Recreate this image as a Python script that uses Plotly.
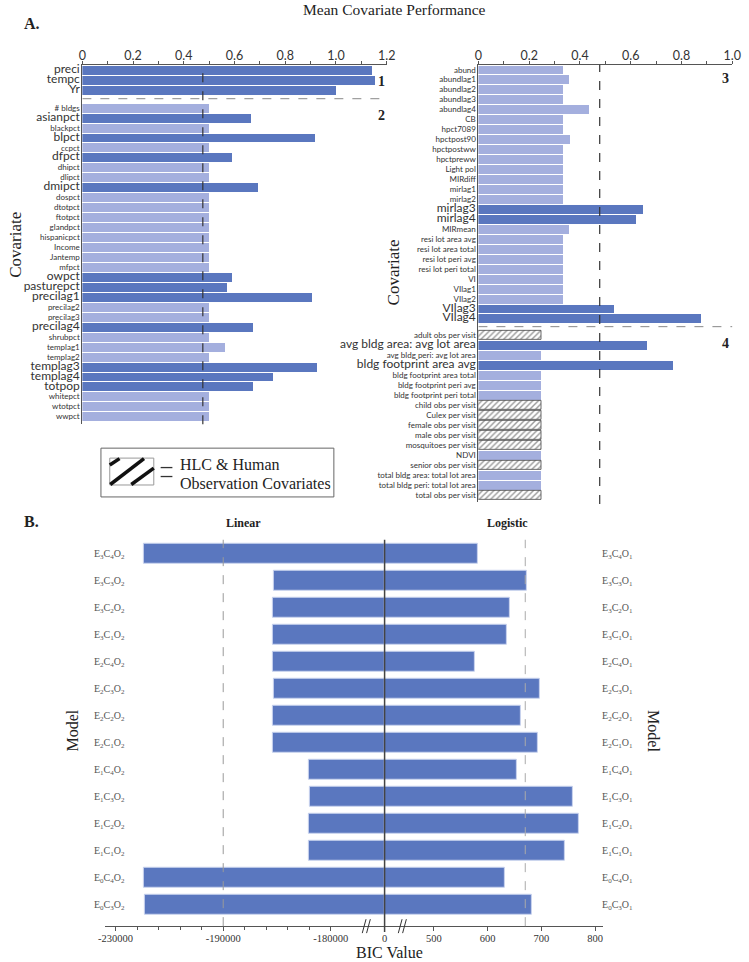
import numpy as np
import plotly.graph_objects as go

W, H = 749, 962

# ---------------- Panel A data ----------------
group1_labels = ["preci", "tempc", "Yr"]
group1_values = [1.143, 1.154, 1.0]

group2_labels = ["# bldgs", "asianpct", "blackpct", "blpct", "ccpct", "dfpct", "dhipct", "dlipct",
                 "dmipct", "dospct", "dtotpct", "ftotpct", "glandpct", "hispanicpct", "Income",
                 "Jantemp", "mfpct", "owpct", "pasturepct", "precilag1", "precilag2", "precilag3",
                 "precilag4", "shrubpct", "templag1", "templag2", "templag3", "templag4", "totpop",
                 "whitepct", "wtotpct", "wwpct"]
group2_values = [0.50, 0.668, 0.50, 0.918, 0.50, 0.59, 0.50, 0.50,
                 0.694, 0.50, 0.50, 0.50, 0.50, 0.50, 0.50,
                 0.50, 0.50, 0.59, 0.573, 0.907, 0.50, 0.50,
                 0.676, 0.50, 0.562, 0.50, 0.925, 0.752, 0.676,
                 0.50, 0.50, 0.50]

group3_labels = ["abund", "abundlag1", "abundlag2", "abundlag3", "abundlag4", "CB", "hpct7089",
                 "hpctpost90", "hpctpostww", "hpctpreww", "Light pol", "MIRdiff", "mirlag1",
                 "mirlag2", "mirlag3", "mirlag4", "MIRmean", "resi lot area avg",
                 "resi lot area total", "resi lot peri avg", "resi lot peri total", "VI",
                 "VIlag1", "VIlag2", "VIlag3", "VIlag4"]
group3_values = [0.335, 0.36, 0.335, 0.335, 0.437, 0.335, 0.333,
                 0.364, 0.333, 0.333, 0.333, 0.333, 0.333,
                 0.333, 0.652, 0.623, 0.359, 0.333,
                 0.333, 0.333, 0.333, 0.333,
                 0.333, 0.333, 0.536, 0.877]

group4_labels = ["adult obs per visit", "avg bldg area: avg lot area", "avg bldg peri: avg lot area",
                 "bldg footprint area avg", "bldg footprint area total", "bldg footprint peri avg",
                 "bldg footprint peri total", "child obs per visit", "Culex per visit",
                 "female obs per visit", "male obs per visit", "mosquitoes per visit", "NDVI",
                 "senior obs per visit", "total bldg area: total lot area",
                 "total bldg peri: total lot area", "total obs per visit"]
group4_values = [0.25, 0.664, 0.25, 0.768, 0.25, 0.25, 0.25, 0.25, 0.25,
                 0.25, 0.25, 0.25, 0.25, 0.25, 0.25, 0.25, 0.25]

highlighted = {"preci", "tempc", "Yr", "asianpct", "blpct", "dfpct", "dmipct", "owpct",
               "pasturepct", "precilag1", "precilag4", "templag3", "templag4", "totpop",
               "mirlag3", "mirlag4", "VIlag3", "VIlag4", "avg bldg area: avg lot area",
               "bldg footprint area avg"}
hlc_human = {"adult obs per visit", "child obs per visit", "Culex per visit",
             "female obs per visit", "male obs per visit", "mosquitoes per visit",
             "senior obs per visit", "total obs per visit"}

threshold_left = 0.475
threshold_right = 0.478

# ---------------- Panel B data ----------------
models_linear = ["E3C4O2", "E3C3O2", "E3C2O2", "E3C1O2", "E2C4O2", "E2C3O2", "E2C2O2",
                 "E2C1O2", "E1C4O2", "E1C3O2", "E1C2O2", "E1C1O2", "E0C4O2", "E0C3O2"]
bic_linear = [-219600, -185330, -185420, -185420, -185370, -185330, -185400,
              -185370, -182000, -181980, -182030, -182030, -219340, -219100]
models_logistic = ["E3C4O1", "E3C3O1", "E3C2O1", "E3C1O1", "E2C4O1", "E2C3O1", "E2C2O1",
                   "E2C1O1", "E1C4O1", "E1C3O1", "E1C2O1", "E1C1O1", "E0C4O1", "E0C3O1"]
bic_logistic = [581, 673, 641, 635, 577, 697, 661, 693, 654, 758, 769, 743, 633, 683]
bic_ticks = [-230000, -190000, -180000, 0, 500, 600, 700, 800]
bic_ref_linear = -190000
bic_ref_logistic = 670

# broken-axis scale: BIC value -> display coordinate
neg_knots = ([-230000, -190000, -180000, 0], [-5, -3, -1, 0])
pos_knots = ([0, 500, 800], [0, 0.915, 3.915])


def bic_scale(v):
    v = np.asarray(v, dtype=float)
    return np.where(v < 0, np.interp(v, *neg_knots), np.interp(v, *pos_knots))


def px_x(p):
    return p / W


def px_y(p):
    return 1 - p / H


DARK = "#5A77BF"
LIGHT = "#A4AFDE"
SANS = "Lato"
SERIF = "Liberation Serif"


def sub_label(m):
    return "".join(ch if ch.isalpha() else f"<sub>{ch}</sub>" for ch in m)


def fmt_label(lab):
    if lab in highlighted:
        return f'<span style="font-size:12px">{lab}</span>'
    return lab


fig = go.Figure()


def add_panel(groups, starts, xa, ya):
    labels, vals, pos = [], [], []
    for (labs, vs), st in zip(groups, starts):
        for i, (l, v) in enumerate(zip(labs, vs)):
            labels.append(l)
            vals.append(v)
            pos.append(st + i)
    for kind in ["light", "dark", "hatch"]:
        xs, ys = [], []
        for l, v, p in zip(labels, vals, pos):
            k = "dark" if l in highlighted else ("hatch" if l in hlc_human else "light")
            if k == kind:
                xs.append(v)
                ys.append(p)
        if not xs:
            continue
        if kind == "hatch":
            marker = dict(color="white", line=dict(color="#444", width=0.8),
                          pattern=dict(shape="/", fgcolor="#333", bgcolor="white",
                                       size=4, solidity=0.35))
        else:
            marker = dict(color=DARK if kind == "dark" else LIGHT, line=dict(width=0))
        fig.add_trace(go.Bar(x=xs, y=ys, orientation="h", width=0.9, marker=marker,
                             xaxis=xa, yaxis=ya, showlegend=False, hoverinfo="x+y"))
    return labels, pos


labs_l, pos_l = add_panel([(group1_labels, group1_values), (group2_labels, group2_values)],
                          [0, 3.8], "x", "y")
labs_r, pos_r = add_panel([(group3_labels, group3_values), (group4_labels, group4_values)],
                          [0, 26.7], "x2", "y2")

# Panel B bars
fig.add_trace(go.Bar(x=bic_scale(bic_linear), y=list(range(len(models_linear))), orientation="h",
                     width=0.74, marker=dict(color=DARK, line=dict(color="#C9D3EE", width=1)),
                     customdata=bic_linear, hovertemplate="%{customdata}<extra></extra>",
                     xaxis="x3", yaxis="y3", showlegend=False))
fig.add_trace(go.Bar(x=bic_scale(bic_logistic), y=list(range(len(models_logistic))), orientation="h",
                     width=0.74, marker=dict(color=DARK, line=dict(color="#C9D3EE", width=1)),
                     customdata=bic_logistic, hovertemplate="%{customdata}<extra></extra>",
                     xaxis="x3", yaxis="y4", showlegend=False))

top_axis_common = dict(side="top", showgrid=False, zeroline=False, showline=True,
                       linecolor="#555", linewidth=1, ticks="outside", ticklen=3,
                       tickcolor="#555", tickfont=dict(family=SANS, size=12.5, color="#333"),
                       ticklabelstandoff=-4,
                       minor=dict(dtick=0.1, ticks="outside", ticklen=3, tickcolor="#555"),
                       fixedrange=True)
y_common = dict(showgrid=False, zeroline=False, showline=True, linecolor="#555", linewidth=1,
                ticks="", tickfont=dict(family=SANS, size=8, color="#333"), fixedrange=True)

layout = dict(
    width=W, height=H, autosize=False, margin=dict(l=0, r=0, t=0, b=0),
    paper_bgcolor="white", plot_bgcolor="rgba(0,0,0,0)", barmode="overlay", bargap=0,
    xaxis=dict(domain=[px_x(77), px_x(388)], range=[0, 1.2], anchor="y",
               tickvals=[0, 0.2, 0.4, 0.6, 0.8, 1.0, 1.2],
               ticktext=["0", "0.2", "0.4", "0.6", "0.8", "1.0", "1.2"], **top_axis_common),
    yaxis=dict(domain=[px_y(422), px_y(61)], range=[35.57, -0.53], anchor="x",
               tickvals=pos_l, ticktext=[fmt_label(l) for l in labs_l], **y_common),
    xaxis2=dict(domain=[px_x(481.7), px_x(741)], range=[0, 1.0], anchor="y2",
                tickvals=[0, 0.2, 0.4, 0.6, 0.8, 1.0],
                ticktext=["0", "0.2", "0.4", "0.6", "0.8", "1.0"], **top_axis_common),
    yaxis2=dict(domain=[px_y(500), px_y(61)], range=[43.4, -0.5], anchor="x2",
                tickvals=pos_r, ticktext=[fmt_label(l) for l in labs_r], **y_common),
    xaxis3=dict(domain=[px_x(100), px_x(609)], range=[-5.2, 4.06], anchor="y3",
                showgrid=False, zeroline=False, showline=True, linecolor="#555", linewidth=1,
                ticks="outside", ticklen=4, tickcolor="#555", ticklabelstandoff=-2,
                tickvals=list(bic_scale(bic_ticks)), ticktext=[str(t) for t in bic_ticks],
                tickfont=dict(family=SERIF, size=10.5, color="#333"),
                minor=dict(tickvals=list(np.round(np.arange(-4.6, -1.2, 0.4), 3)),
                           ticks="outside", ticklen=3, tickcolor="#555"),
                fixedrange=True),
    yaxis3=dict(domain=[px_y(926), px_y(538)], range=[13.81, -0.505], anchor="free",
                position=px_x(120), showgrid=False, zeroline=False, showline=False, ticks="",
                tickvals=list(range(len(models_linear))),
                ticktext=[sub_label(m) for m in models_linear],
                tickfont=dict(family=SERIF, size=10, color="#555"), fixedrange=True),
    yaxis4=dict(overlaying="y3", side="right", range=[13.81, -0.505], anchor="free",
                position=px_x(607), showgrid=False, zeroline=False, showline=False, ticks="",
                tickvals=list(range(len(models_logistic))),
                ticktext=[sub_label(m) for m in models_logistic],
                tickfont=dict(family=SERIF, size=10, color="#555"), fixedrange=True),
)
fig.update_layout(**layout)

shapes = []
# thresholds and separators in panel A
shapes.append(dict(type="line", xref="x", yref="y domain", x0=threshold_left, x1=threshold_left,
                   y0=0, y1=1, line=dict(color="#333", width=1.2, dash="dash")))
shapes.append(dict(type="line", xref="x2", yref="y2 domain", x0=threshold_right, x1=threshold_right,
                   y0=-0.005, y1=1, line=dict(color="#333", width=1.2, dash="dash")))
shapes.append(dict(type="line", xref="x", yref="y", x0=0, x1=1.21, y0=2.88, y1=2.88,
                   line=dict(color="#888", width=1, dash="dash")))
shapes.append(dict(type="line", xref="x2", yref="y2", x0=0, x1=1.016, y0=25.8, y1=25.8,
                   line=dict(color="#888", width=1, dash="dash")))
# panel B reference lines
for v, col in [(bic_ref_linear, "#999"), (bic_ref_logistic, "#aaa")]:
    u = float(bic_scale(v))
    shapes.append(dict(type="line", xref="x3", yref="y3 domain", x0=u, x1=u, y0=0, y1=1,
                       line=dict(color=col, width=1, dash="dash")))
shapes.append(dict(type="line", xref="x3", yref="paper", x0=0, x1=0, y0=px_y(932), y1=px_y(538),
                   line=dict(color="#444", width=1.5)))
# axis break marks
for ub in [-0.34, 0.33]:
    for off in [-0.04, 0.04]:
        shapes.append(dict(type="line", xref="x3", yref="paper",
                           x0=ub + off - 0.035, x1=ub + off + 0.035,
                           y0=px_y(933), y1=px_y(919), line=dict(color="#333", width=1)))
# legend box
shapes.append(dict(type="rect", xref="paper", yref="paper", x0=px_x(96), x1=px_x(334),
                   y0=px_y(495), y1=px_y(446), line=dict(color="#666", width=1)))
shapes.append(dict(type="rect", xref="paper", yref="paper", x0=px_x(105), x1=px_x(150),
                   y0=px_y(483), y1=px_y(456), line=dict(color="#999", width=1)))
for (x0, y0, x1, y1) in [(105, 463, 115, 456.5), (105.5, 482.5, 140, 456.5), (127, 482.5, 150, 466)]:
    shapes.append(dict(type="line", xref="paper", yref="paper", x0=px_x(x0), y0=px_y(y0),
                       x1=px_x(x1), y1=px_y(y1), line=dict(color="#111", width=3.5)))
for yy in [465.5, 474.5]:
    shapes.append(dict(type="line", xref="paper", yref="paper", x0=px_x(157), x1=px_x(169),
                       y0=px_y(yy), y1=px_y(yy), line=dict(color="#333", width=1.3)))
fig.update_layout(shapes=shapes)


def ann(text, x, y, size, family=SERIF, bold=False, angle=0, xanchor="center", color="#222"):
    t = f"<b>{text}</b>" if bold else text
    return dict(text=t, x=px_x(x), y=px_y(y), xref="paper", yref="paper", showarrow=False,
                xanchor=xanchor, yanchor="middle", textangle=angle,
                font=dict(family=family, size=size, color=color))


annotations = [
    ann("Mean Covariate Performance", 396, 6, 15.5),
    ann("A.", 15, 20, 16, bold=True, xanchor="left"),
    ann("B.", 15, 520, 16, bold=True, xanchor="left"),
    ann("Linear", 242, 521, 12, bold=True),
    ann("Logistic", 511, 521, 12, bold=True),
    ann("1", 383, 78, 14, bold=True),
    ann("2", 383, 112, 14, bold=True),
    ann("3", 734, 75, 14, bold=True),
    ann("4", 734, 341, 14, bold=True),
    ann("Covariate", 9, 242, 17, angle=-90),
    ann("Covariate", 395, 270, 17, angle=-90),
    ann("Model", 67, 730, 16, angle=-90),
    ann("Model", 660, 730, 16, angle=90),
    ann("BIC Value", 391, 952, 16),
    ann("HLC &amp; Human", 175, 462, 16, xanchor="left"),
    ann("Observation Covariates", 175, 481, 16, xanchor="left"),
]
fig.update_layout(annotations=annotations)

post = (
    "document.documentElement.style.overflow='hidden';"
    "document.body.style.margin='0';document.body.style.padding='0';"
)
fig.write_html("out.html", default_width="749px", default_height="962px",
               config={"responsive": False, "displayModeBar": False},
               post_script=post)
